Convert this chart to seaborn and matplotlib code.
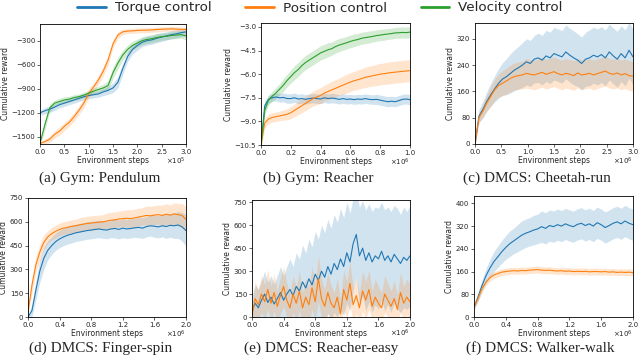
import numpy as np
import pandas as pd
import matplotlib.pyplot as plt
from matplotlib.lines import Line2D
import seaborn as sns

sns.set_style("ticks")
plt.rcParams['font.family'] = ['DejaVu Sans']
plt.rcParams.update({'xtick.major.size': 2, 'ytick.major.size': 2,
                     'xtick.major.width': 0.5, 'ytick.major.width': 0.5,
                     'axes.linewidth': 0.6, 'axes.edgecolor': 'black',
                     'xtick.major.pad': 1.5, 'ytick.major.pad': 1.5})

methods = ['Torque control', 'Position control', 'Velocity control']
colors = ['#1f77b4', '#ff7f0e', '#2ca02c']

#%% (a) Gym: Pendulum, steps 0..3e5
pend_steps = np.linspace(0, 3e5, 31)
pend_torque = [-1200, -1175, -1155, -1130, -1100, -1080, -1060, -1040, -1020, -1000, -985,
               -975, -965, -940, -920, -890, -820, -650, -500, -410, -360,
               -320, -300, -290, -270, -255, -240, -225, -215, -200, -190]
pend_position = [-1585, -1560, -1530, -1470, -1430, -1370, -1320, -1250, -1170, -1080, -960,
                 -880, -790, -680, -540, -340, -230, -190, -180, -178, -172,
                 -170, -168, -166, -160, -158, -155, -152, -156, -158, -160]
pend_velocity = [-1580, -1350, -1140, -1080, -1060, -1040, -1030, -1010, -1000, -980, -955,
                 -930, -910, -890, -860, -700, -580, -480, -410, -360, -330,
                 -300, -285, -275, -260, -250, -245, -235, -230, -225, -240]
pend_torque_sd = [30, 40, 40, 40, 40, 40, 40, 40, 40, 40, 40, 40, 40, 45, 50, 60,
                  70, 70, 60, 60, 60, 55, 55, 55, 55, 55, 50, 50, 50, 50, 50]
pend_position_sd = [20, 30, 40, 45, 50, 50, 50, 55, 55, 55, 55, 55, 55, 60, 60, 50,
                    40, 35, 30, 30, 30, 30, 30, 30, 30, 30, 30, 30, 30, 30, 30]
pend_velocity_sd = [40, 60, 50, 40, 40, 40, 35, 35, 35, 35, 35, 40, 40, 45, 60, 70,
                    70, 60, 55, 55, 50, 50, 50, 50, 50, 45, 45, 45, 45, 45, 50]

#%% (b) Gym: Reacher, steps 0..1e6
reach_steps = np.linspace(0, 1e6, 41)
reach_torque = [-10.5, -8.0, -7.6, -7.5, -7.45, -7.5, -7.48, -7.55, -7.55, -7.5, -7.58,
                -7.55, -7.6, -7.55, -7.52, -7.55, -7.58, -7.5, -7.55, -7.52, -7.55,
                -7.6, -7.55, -7.6, -7.58, -7.62, -7.58, -7.6, -7.55, -7.6, -7.62,
                -7.6, -7.65, -7.7, -7.75, -7.72, -7.75, -7.68, -7.6, -7.58, -7.62]
reach_position = [-10.5, -9.1, -8.85, -8.75, -8.7, -8.65, -8.6, -8.55, -8.45, -8.3, -8.15,
                  -8.0, -7.85, -7.7, -7.55, -7.45, -7.35, -7.2, -7.1, -7.0, -6.9,
                  -6.8, -6.7, -6.6, -6.5, -6.42, -6.35, -6.28, -6.2, -6.15, -6.1,
                  -6.05, -6.0, -5.97, -5.93, -5.9, -5.87, -5.85, -5.82, -5.8, -5.78]
reach_velocity = [-10.5, -8.3, -7.65, -7.4, -7.2, -6.95, -6.7, -6.4, -6.15, -5.9, -5.7,
                  -5.45, -5.25, -5.1, -4.95, -4.8, -4.65, -4.55, -4.45, -4.38, -4.25,
                  -4.15, -4.08, -4.0, -3.92, -3.85, -3.8, -3.72, -3.68, -3.64, -3.6,
                  -3.55, -3.52, -3.48, -3.45, -3.42, -3.38, -3.37, -3.35, -3.36, -3.33]
reach_torque_sd = [0.2, 0.3, 0.25, 0.25, 0.25, 0.28, 0.28, 0.3, 0.3, 0.3, 0.3,
                   0.3, 0.3, 0.3, 0.3, 0.3, 0.3, 0.3, 0.3, 0.3, 0.3,
                   0.3, 0.3, 0.3, 0.3, 0.3, 0.3, 0.3, 0.3, 0.3, 0.3,
                   0.32, 0.32, 0.32, 0.32, 0.32, 0.32, 0.32, 0.32, 0.32, 0.32]
reach_position_sd = [0.2, 0.3, 0.3, 0.3, 0.3, 0.3, 0.32, 0.35, 0.38, 0.4, 0.42,
                     0.45, 0.45, 0.45, 0.48, 0.5, 0.5, 0.5, 0.52, 0.55, 0.55,
                     0.55, 0.58, 0.6, 0.6, 0.6, 0.62, 0.62, 0.65, 0.65, 0.65,
                     0.68, 0.68, 0.68, 0.7, 0.7, 0.7, 0.7, 0.7, 0.7, 0.7]
reach_velocity_sd = [0.2, 0.3, 0.3, 0.3, 0.35, 0.35, 0.4, 0.4, 0.42, 0.45, 0.45,
                     0.45, 0.45, 0.45, 0.45, 0.45, 0.45, 0.45, 0.45, 0.42, 0.42,
                     0.42, 0.4, 0.4, 0.4, 0.4, 0.38, 0.38, 0.38, 0.38, 0.36,
                     0.36, 0.36, 0.36, 0.35, 0.35, 0.35, 0.35, 0.35, 0.35, 0.35]

#%% (c) DMCS: Cheetah-run, steps 0..3e6
cheetah_steps = np.linspace(0, 3e6, 41)
cheetah_torque = [0, 85, 105, 130, 150, 168, 185, 198, 205, 215, 225,
                  232, 240, 250, 245, 258, 262, 255, 268, 262, 275,
                  270, 265, 280, 270, 262, 255, 245, 258, 262, 270,
                  265, 272, 262, 280, 268, 258, 275, 262, 285, 265]
cheetah_position = [0, 80, 100, 125, 145, 165, 178, 185, 192, 200, 205,
                    208, 210, 215, 212, 210, 214, 218, 212, 216, 220,
                    214, 210, 215, 212, 208, 216, 210, 212, 215, 210,
                    214, 218, 222, 215, 212, 216, 210, 214, 208, 206]
cheetah_torque_sd = [5, 20, 25, 30, 35, 40, 45, 50, 55, 60, 62,
                     65, 68, 70, 70, 72, 75, 75, 78, 78, 80,
                     80, 80, 82, 82, 82, 80, 80, 82, 85, 85,
                     85, 85, 85, 85, 85, 85, 85, 85, 85, 85]
cheetah_position_sd = [5, 15, 20, 25, 30, 32, 35, 38, 40, 40, 42,
                       42, 42, 45, 45, 45, 45, 45, 45, 45, 45,
                       45, 45, 45, 45, 45, 45, 45, 45, 45, 45,
                       45, 45, 45, 45, 45, 45, 45, 45, 45, 45]

#%% (d) DMCS: Finger-spin, steps 0..2e6
finger_steps = np.linspace(0, 2e6, 41)
finger_torque = [0, 40, 170, 290, 370, 420, 450, 475, 492, 505, 515,
                 522, 530, 535, 540, 545, 548, 552, 555, 550, 548,
                 555, 558, 552, 560, 555, 558, 562, 565, 560, 570,
                 575, 572, 568, 575, 570, 578, 575, 580, 568, 545]
finger_position = [30, 200, 330, 410, 470, 505, 525, 540, 552, 560, 565,
                   572, 575, 580, 585, 590, 592, 595, 598, 600, 605,
                   610, 612, 618, 620, 622, 620, 625, 630, 635, 640,
                   638, 642, 645, 640, 648, 642, 650, 645, 640, 615]
finger_torque_sd = [10, 40, 60, 70, 70, 60, 55, 55, 55, 55, 55,
                    55, 55, 55, 55, 55, 55, 55, 55, 55, 55,
                    55, 60, 60, 60, 60, 60, 60, 65, 65, 65,
                    65, 70, 70, 70, 75, 75, 80, 85, 90, 100]
finger_position_sd = [20, 50, 50, 50, 45, 40, 40, 40, 40, 40, 40,
                      40, 40, 45, 45, 45, 45, 45, 45, 45, 50,
                      50, 50, 50, 50, 55, 55, 55, 55, 55, 60,
                      60, 60, 60, 65, 65, 65, 70, 70, 75, 80]

#%% (e) DMCS: Reacher-easy, steps 0..2e6
reasy_steps = np.linspace(0, 2e6, 51)
reasy_torque = [40, 90, 60, 110, 150, 95, 130, 85, 120, 160, 110,
                150, 180, 140, 200, 170, 230, 190, 250, 210, 280,
                240, 300, 260, 330, 280, 350, 310, 380, 330, 420,
                360, 480, 540, 400, 450, 370, 420, 360, 400, 380,
                430, 370, 400, 360, 410, 380, 350, 390, 370, 400]
reasy_position = [10, 120, 80, 150, 100, 180, 90, 160, 70, 140, 200,
                  110, 60, 150, 90, 170, 60, 130, 80, 190, 100,
                  250, 120, 70, 160, 90, 60, 130, 20, 180, 110,
                  220, 80, 140, 60, 170, 110, 180, 70, 130, 90,
                  60, 150, 110, 70, 120, 50, 160, 90, 130, 100]
reasy_torque_sd = [100, 120, 120, 130, 150, 130, 140, 130, 150, 170, 160,
                   180, 200, 190, 220, 210, 240, 230, 260, 250, 280,
                   270, 300, 290, 310, 300, 320, 310, 330, 320, 330,
                   320, 300, 280, 320, 310, 330, 320, 330, 320, 330,
                   320, 330, 320, 330, 320, 330, 320, 330, 320, 330]
reasy_position_sd = [60, 110, 100, 120, 110, 130, 110, 120, 100, 120, 130,
                     110, 100, 120, 110, 130, 100, 120, 110, 140, 120,
                     150, 130, 110, 130, 120, 100, 120, 90, 130, 120,
                     140, 110, 120, 100, 130, 120, 130, 100, 120, 110,
                     100, 120, 110, 100, 120, 90, 130, 110, 120, 110]

#%% (f) DMCS: Walker-walk, steps 0..2e6
walker_steps = np.linspace(0, 2e6, 41)
walker_torque = [35, 70, 110, 145, 172, 195, 212, 230, 245, 258, 268,
                 278, 288, 295, 300, 306, 310, 318, 312, 322, 318,
                 325, 320, 328, 322, 318, 326, 330, 322, 328, 320,
                 332, 325, 315, 322, 330, 335, 328, 338, 330, 325]
walker_position = [35, 65, 100, 122, 138, 148, 153, 158, 160, 162, 163,
                   162, 164, 163, 165, 166, 167, 165, 164, 165, 163,
                   162, 163, 161, 162, 160, 161, 160, 161, 159, 160,
                   160, 159, 160, 158, 159, 157, 158, 157, 158, 156]
walker_torque_sd = [10, 15, 20, 25, 30, 35, 38, 40, 42, 45, 45,
                    48, 50, 50, 50, 52, 52, 55, 55, 55, 55,
                    55, 55, 55, 55, 55, 55, 55, 55, 55, 55,
                    55, 55, 55, 55, 55, 55, 55, 55, 55, 55]
walker_position_sd = [8, 10, 12, 12, 12, 12, 12, 12, 12, 12, 12,
                      12, 12, 12, 12, 12, 12, 12, 12, 12, 12,
                      12, 12, 12, 12, 12, 12, 12, 12, 12, 12,
                      12, 12, 12, 12, 12, 12, 12, 12, 12, 12]


def draw(ax, steps, mean, sd, color):
    mean = np.asarray(mean, dtype=float)
    sd = np.asarray(sd, dtype=float)
    ax.fill_between(steps, mean - sd, mean + sd, color=color, alpha=0.2, lw=0)
    sns.lineplot(x=steps, y=mean, ax=ax, color=color, lw=0.8)


fig = plt.figure(figsize=(6.4, 3.58), dpi=100)
W, H = 640, 358
# axes boxes in pixels: left, top, right, bottom
boxes = [(40, 24, 186, 144), (261, 23, 410, 145), (475, 23, 633, 144),
         (28, 198, 186, 317), (252, 200, 410, 317), (474, 196, 633, 317)]
axes = [fig.add_axes([l / W, 1 - b / H, (r - l) / W, (b - t) / H]) for l, t, r, b in boxes]

panels = [
    (pend_steps, [(pend_torque, pend_torque_sd, 0), (pend_position, pend_position_sd, 1),
                  (pend_velocity, pend_velocity_sd, 2)],
     (0, 3e5), 5, np.arange(0, 3.01e5, 0.5e5), (-1590, -92), [-1500, -1200, -900, -600, -300]),
    (reach_steps, [(reach_torque, reach_torque_sd, 0), (reach_position, reach_position_sd, 1),
                   (reach_velocity, reach_velocity_sd, 2)],
     (0, 1e6), 6, np.arange(0, 1.01e6, 0.2e6), (-10.5, -2.75), [-10.5, -9.0, -7.5, -6.0, -4.5, -3.0]),
    (cheetah_steps, [(cheetah_torque, cheetah_torque_sd, 0), (cheetah_position, cheetah_position_sd, 1)],
     (0, 3e6), 6, np.arange(0, 3.01e6, 0.5e6), (0, 368), [0, 80, 160, 240, 320]),
    (finger_steps, [(finger_torque, finger_torque_sd, 0), (finger_position, finger_position_sd, 1)],
     (0, 2e6), 6, np.arange(0, 2.01e6, 0.4e6), (0, 750), [0, 150, 300, 450, 600, 750]),
    (reasy_steps, [(reasy_torque, reasy_torque_sd, 0), (reasy_position, reasy_position_sd, 1)],
     (0, 2e6), 6, np.arange(0, 2.01e6, 0.4e6), (0, 765), [0, 150, 300, 450, 600, 750]),
    (walker_steps, [(walker_torque, walker_torque_sd, 0), (walker_position, walker_position_sd, 1)],
     (0, 2e6), 6, np.arange(0, 2.01e6, 0.4e6), (0, 426), [0, 80, 160, 240, 320, 400]),
]

for ax, (steps, series, xlim, expo, xticks, ylim, yticks) in zip(axes, panels):
    for mean, sd, ci in series:
        draw(ax, steps, mean, sd, colors[ci])
    ax.set_xlim(*xlim)
    ax.set_ylim(*ylim)
    ax.set_xticks(xticks)
    ax.set_xticklabels([f'{t / 10 ** expo:.1f}' for t in xticks])
    ax.set_yticks(yticks)
    ax.tick_params(labelsize=5)
    ax.text(1.0, -0.095, rf'$\times10^{{{expo}}}$', transform=ax.transAxes,
            ha='right', va='top', fontsize=5)
    ax.set_xlabel('Environment steps', fontsize=5.5, labelpad=1)
    ax.set_ylabel('Cumulative reward', fontsize=5.5, labelpad=1)
    for sp in ax.spines.values():
        sp.set_visible(True)

captions = ['(a) Gym: Pendulum', '(b) Gym: Reacher', '(c) DMCS: Cheetah-run',
            '(d) DMCS: Finger-spin', '(e) DMCS: Reacher-easy', '(f) DMCS: Walker-walk']
cap_x = [100, 318, 537, 101, 321, 540]
cap_y = [178, 178, 178, 348, 348, 348]
for txt, cx, cy in zip(captions, cap_x, cap_y):
    fig.text(cx / W, 1 - cy / H, txt, ha='center', va='center', fontsize=11,
             family=['Liberation Serif'])

handles = [Line2D([], [], color=c, lw=2) for c in colors]
fig.legend(handles, methods, loc='center', bbox_to_anchor=(0.5, 1 - 8 / H), ncol=3,
           frameon=False, fontsize=9.7, handlelength=2.1, columnspacing=2.5,
           handletextpad=0.7, borderaxespad=0, borderpad=0)

fig.savefig('out.png', dpi=100)
